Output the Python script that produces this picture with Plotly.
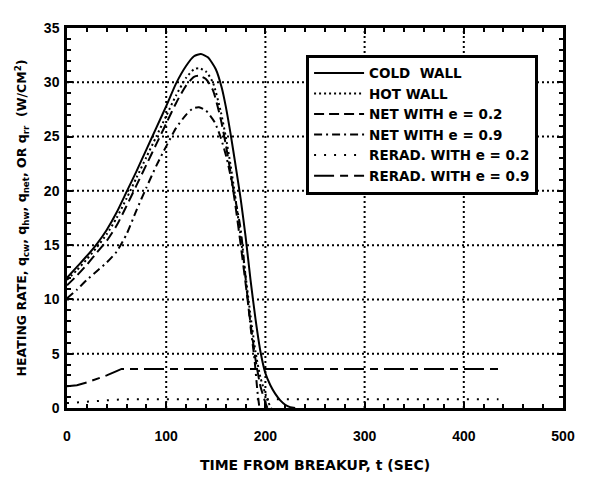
import plotly.graph_objects as go

# ---- data ----
t_cold = [0, 10, 20, 30, 40, 50, 60, 70, 80, 90, 100, 110, 120, 128, 135, 142, 150, 156, 160, 165,
          170, 175, 180, 185, 190, 195, 200, 205, 210, 215, 220, 225, 230]
q_cold = [12.0, 13.0, 14.0, 15.1, 16.4, 18.0, 19.9, 21.8, 23.8, 25.8, 27.8, 29.9, 31.5, 32.4, 32.6, 32.3,
          31.2, 29.5, 27.8, 25.2, 22.3, 19.3, 15.8, 11.8, 8.2, 5.2, 3.2, 2.1, 1.3, 0.7, 0.3, 0.08, 0.0]

t_hot = [0, 10, 20, 30, 40, 50, 60, 70, 80, 90, 100, 110, 120, 128, 133, 140, 147, 155, 160, 165,
         170, 175, 180, 185, 190, 195, 200, 203, 206]
q_hot = [11.8, 12.7, 13.7, 14.8, 16.0, 17.5, 19.3, 21.2, 23.1, 25.0, 26.9, 28.8, 30.4, 31.2, 31.3, 31.0,
         30.0, 27.3, 25.0, 22.3, 19.2, 15.8, 12.2, 8.5, 5.2, 2.8, 1.3, 0.5, 0.0]

t_net02 = [0, 10, 20, 30, 40, 50, 60, 70, 80, 90, 100, 110, 120, 128, 133, 140, 147, 155, 160, 165,
           170, 175, 180, 185, 190, 195, 200, 202]
q_net02 = [11.3, 12.2, 13.2, 14.3, 15.4, 16.8, 18.6, 20.5, 22.4, 24.3, 26.2, 28.1, 29.7, 30.5, 30.6, 30.3,
           29.3, 26.6, 24.3, 21.6, 18.5, 15.1, 11.5, 7.8, 4.5, 2.0, 0.5, 0.0]

t_net09 = [0, 10, 20, 30, 40, 50, 60, 70, 80, 90, 100, 110, 120, 127, 133, 140, 149, 155, 161, 168,
           175, 180, 185, 189, 192, 194]
q_net09 = [10.1, 10.9, 11.8, 12.6, 13.4, 14.4, 16.0, 18.2, 20.3, 22.3, 24.1, 25.8, 27.0, 27.6, 27.7, 27.4,
           26.3, 24.9, 23.0, 20.0, 16.5, 12.0, 7.5, 4.5, 1.5, 0.0]

t_rr02 = [0, 10, 20, 30, 40, 50, 55, 435]
q_rr02 = [0.45, 0.52, 0.58, 0.64, 0.71, 0.77, 0.8, 0.8]

t_rr09 = [0, 10, 20, 30, 40, 50, 55, 435]
q_rr09 = [2.0, 2.1, 2.35, 2.65, 3.0, 3.4, 3.6, 3.6]

x_ticks = [0, 100, 200, 300, 400, 500]
y_ticks = [0, 5, 10, 15, 20, 25, 30, 35]

names = ["COLD  WALL", "HOT WALL", "NET WITH e = 0.2", "NET WITH e = 0.9",
         "RERAD. WITH e = 0.2", "RERAD. WITH e = 0.9"]

FONT = "DejaVu Sans, Liberation Sans, sans-serif"
TICKFONT = "Liberation Sans, Arial, sans-serif"

series = [
    (t_cold, q_cold, "solid", "spline"),
    (t_hot, q_hot, "2px,3px", "spline"),
    (t_net02, q_net02, "10px,5px", "spline"),
    (t_net09, q_net09, "8px,4px,2px,4px", "spline"),
    (t_rr02, q_rr02, "2px,8px", "linear"),
    (t_rr09, q_rr09, "20px,6px,8px,6px", "linear"),
]

fig = go.Figure()

# dotted grid lines at the major tick values
for v in x_ticks[1:-1]:
    fig.add_shape(type="line", xref="x", yref="paper", x0=v, x1=v, y0=0, y1=1, layer="below",
                  line=dict(color="black", width=2, dash="2px,3px"))
for v in y_ticks[1:-1]:
    fig.add_shape(type="line", xref="paper", yref="y", x0=0, x1=1, y0=v, y1=v, layer="below",
                  line=dict(color="black", width=2, dash="2px,3px"))

for (xs, ys, dash, shp), nm in zip(series, names):
    fig.add_trace(go.Scatter(x=xs, y=ys, mode="lines", name=nm,
                             line=dict(color="black", width=2, dash=dash, shape=shp,
                                       **({"smoothing": 0.6} if shp == "spline" else {}))))

axis_common = dict(
    showline=True, linecolor="black", linewidth=2.5, mirror="allticks",
    ticks="inside", ticklen=6, tickwidth=2, tickcolor="black",
    showgrid=False, zeroline=False, ticklabeloverflow="allow",
    tickfont=dict(family=TICKFONT, size=14, color="black", weight="bold"),
)

fig.update_xaxes(range=[0, 500], tickvals=x_ticks, ticktext=[str(v) for v in x_ticks],
                 minor=dict(dtick=20, tick0=0, ticks="inside", ticklen=4, tickwidth=1.5, tickcolor="black", showgrid=False),
                 ticklabelstandoff=13,
                 title=dict(text="TIME FROM BREAKUP, t (SEC)", standoff=18,
                            font=dict(family=FONT, size=14, color="black", weight="bold")),
                 **axis_common)
fig.update_yaxes(range=[0, 35], tickvals=y_ticks, ticktext=[str(v) for v in y_ticks],
                 minor=dict(dtick=1, tick0=0, ticks="inside", ticklen=4, tickwidth=1.5, tickcolor="black", showgrid=False),
                 ticklabelstandoff=2,
                 title=dict(text="HEATING RATE, q<sub>cw</sub>, q<sub>hw</sub>, q<sub>net</sub>, OR q<sub>rr</sub>  (W/CM<sup>2</sup>)",
                            standoff=15,
                            font=dict(family=FONT, size=12.5, color="black", weight="bold")),
                 **axis_common)

# page has default 8px body margins, so the figure is sized to fit inside the 595x493 window
fig.update_layout(
    width=579, height=475,
    margin=dict(l=59, r=12, t=14, b=60),
    paper_bgcolor="white", plot_bgcolor="white",
    showlegend=True,
    legend=dict(x=0.482, y=0.93, xanchor="left", yanchor="top",
                bgcolor="white", bordercolor="black", borderwidth=3,
                font=dict(family=FONT, size=13.5, color="black", weight="bold"),
                tracegroupgap=0, itemwidth=50),
)

fig.write_html("out.html", config={"displayModeBar": False})
